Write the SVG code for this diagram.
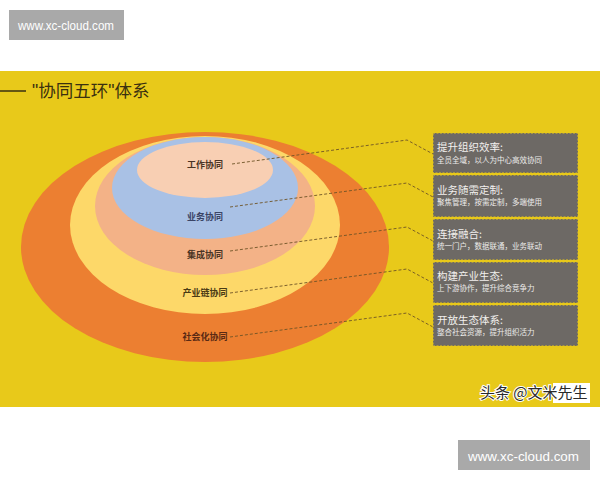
<svg xmlns="http://www.w3.org/2000/svg" width="600" height="480" viewBox="0 0 600 480">
<style>
.cjk{font-family:"Noto Sans CJK SC","Noto Sans",sans-serif}
.lbl{font-size:9px;font-weight:bold;fill:#4a3424;text-anchor:middle}
.box rect{fill:#6d6965;stroke:#e8c81a;stroke-width:1;stroke-dasharray:2,1.5}
.bt{font-size:10.5px;fill:#f2f0ee}
.bs{font-size:7.5px;fill:#ecebea}
.conn{fill:none;stroke:#6e5426;stroke-width:0.9;stroke-dasharray:3,2}
.wm rect{fill:#a9a9a9}
.wm text{font-family:"Liberation Sans",Arial,sans-serif;fill:#ffffff}
.q{font-family:"Liberation Sans",Arial,sans-serif}
</style>
<rect x="0" y="0" width="600" height="480" fill="#ffffff"/>
<rect x="0" y="71" width="600" height="336" fill="#e8c91a"/>
<g id="title">
<line x1="0" y1="91" x2="26" y2="91" stroke="#3a2f10" stroke-width="1.5"/>
<text x="32" y="97" class="cjk" font-size="17.5" fill="#3a3010"><tspan class="q">"</tspan>协同五环<tspan class="q">"</tspan>体系</text>
</g>
<g id="rings">
<ellipse id="ring-social" cx="205" cy="247" rx="184" ry="115" fill="#ec7f31"/>
<ellipse id="ring-industry" cx="205" cy="225" rx="135" ry="89" fill="#fdd869"/>
<ellipse id="ring-integration" cx="205" cy="206" rx="110" ry="69" fill="#f3b287"/>
<ellipse id="ring-business" cx="205" cy="188" rx="93" ry="51" fill="#a9c1e5"/>
<ellipse id="ring-work" cx="205" cy="170" rx="68" ry="28" fill="#f8cfb3"/>
</g>
<g id="ring-labels" class="cjk">
<text class="lbl" x="205" y="168">工作协同</text>
<text class="lbl" x="205" y="220" style="fill:#3a4466">业务协同</text>
<text class="lbl" x="205" y="258">集成协同</text>
<text class="lbl" x="205" y="296" style="fill:#4a3a14">产业链协同</text>
<text class="lbl" x="205" y="340" style="fill:#5a2a14">社会化协同</text>
</g>
<g id="connectors">
<polyline class="conn" points="232,164 407,140 433,154"/>
<polyline class="conn" points="230,207 407,183 433,197"/>
<polyline class="conn" points="230,251 407,227 433,241"/>
<polyline class="conn" points="230,293 407,269 433,283"/>
<polyline class="conn" points="230,337 407,313 433,327"/>
</g>
<g id="box1" class="box cjk">
<rect x="433" y="133" width="145" height="40"/>
<text class="bt" x="437" y="151">提升组织效率:</text>
<text class="bs" x="437" y="163">全员全域，以人为中心高效协同</text>
</g>
<g id="box2" class="box cjk">
<rect x="433" y="175" width="145" height="42"/>
<text class="bt" x="437" y="194">业务随需定制:</text>
<text class="bs" x="437" y="205">聚焦管理，按需定制，多端使用</text>
</g>
<g id="box3" class="box cjk">
<rect x="433" y="219" width="145" height="41"/>
<text class="bt" x="437" y="238">连接融合:</text>
<text class="bs" x="437" y="249">统一门户，数据联通，业务联动</text>
</g>
<g id="box4" class="box cjk">
<rect x="433" y="262" width="145" height="41"/>
<text class="bt" x="437" y="280">构建产业生态:</text>
<text class="bs" x="437" y="291">上下游协作，提升综合竞争力</text>
</g>
<g id="box5" class="box cjk">
<rect x="433" y="305" width="145" height="41"/>
<text class="bt" x="437" y="324">开放生态体系:</text>
<text class="bs" x="437" y="335">整合社会资源，提升组织活力</text>
</g>
<g id="credit">
<rect x="553" y="383" width="37" height="20" fill="#ffffff"/>
<text x="480" y="398" class="cjk" font-size="15" fill="#2a2a2a" stroke="#ffffff" stroke-width="2" paint-order="stroke">头条 @文米先生</text>
</g>
<g id="wm-top" class="wm">
<rect x="9" y="10" width="115" height="30"/>
<text x="18" y="30" font-size="12" textLength="96" lengthAdjust="spacingAndGlyphs">www.xc-cloud.com</text>
</g>
<g id="wm-bottom" class="wm">
<rect x="458" y="440" width="132" height="30"/>
<text x="468" y="461" font-size="13.5" textLength="111" lengthAdjust="spacingAndGlyphs">www.xc-cloud.com</text>
</g>
</svg>
